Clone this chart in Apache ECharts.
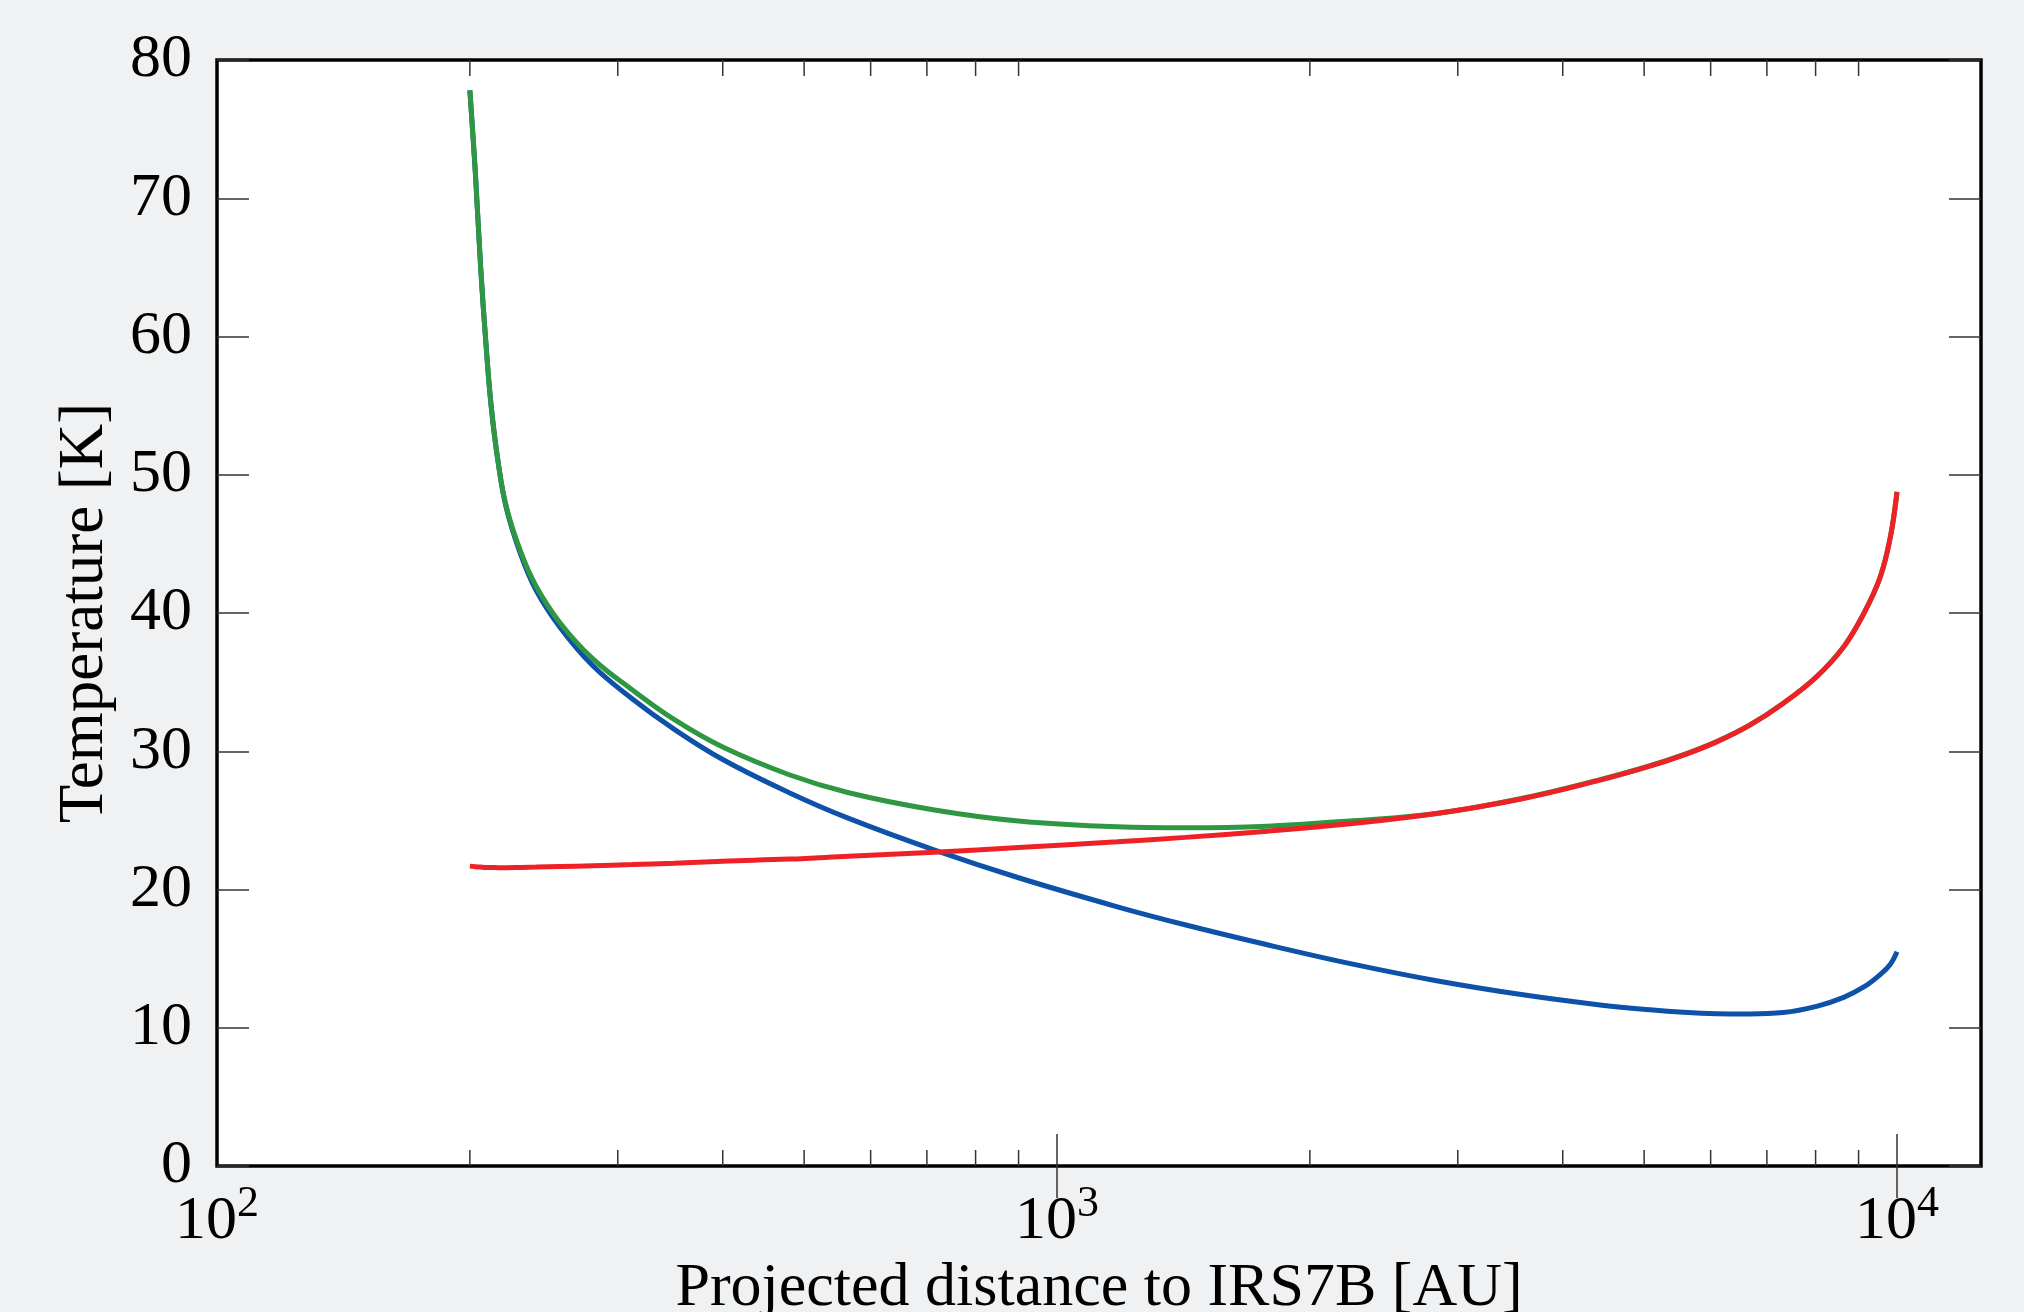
<!DOCTYPE html>
<html>
<head>
<meta charset="utf-8">
<title>Temperature vs projected distance</title>
<script src="https://cdn.jsdelivr.net/npm/echarts@6/dist/echarts.min.js"></script>
<style>
  html, body { margin: 0; padding: 0; background: #f0f1f3; }
  #chart { width: 2024px; height: 1312px; }
</style>
</head>
<body>
<div id="chart"></div>
<script>
// projected distance [AU]
const distance = [200, 203, 206, 209, 212, 216, 221, 230, 240, 256, 280, 312, 350, 400, 480, 565, 715, 900,
  1180, 1420, 1780, 2250, 2830, 3570, 4430, 5080, 5570, 6100, 6680, 7320, 8020, 8640, 9130, 9550, 9820, 10000];

// temperature [K]
const tempBlue = [77.8, 71.9, 65.0, 59.5, 55.0, 51.0, 47.6, 44.2, 41.6, 38.97, 36.2, 33.8, 31.6, 29.4, 27.0, 25.14, 22.85, 20.85,
  18.75, 17.45, 16.0, 14.6, 13.4, 12.4, 11.65, 11.3, 11.12, 11.02, 11.0, 11.1, 11.55, 12.2, 12.95, 13.85, 14.6, 15.5];
const tempGreen = [77.8, 71.9, 65.0, 59.5, 55.0, 51.0, 47.7, 44.4, 41.9, 39.3, 36.7, 34.45, 32.3, 30.3, 28.3, 27.0, 25.75, 24.95,
  24.53, 24.46, 24.58, 24.97, 25.5, 26.58, 27.94, 28.95, 29.75, 30.7, 31.9, 33.47, 35.39, 37.56, 39.97, 42.6, 45.5, 48.76];
const tempRed = [21.69, 21.65, 21.62, 21.6, 21.6, 21.58, 21.58, 21.6, 21.62, 21.66, 21.72, 21.8, 21.9, 22.05, 22.2, 22.41, 22.7, 23.04,
  23.45, 23.77, 24.22, 24.78, 25.5, 26.55, 27.91, 28.92, 29.72, 30.68, 31.89, 33.46, 35.38, 37.55, 39.96, 42.6, 45.5, 48.76];

// log-axis decades and minor ticks
const decades = [100, 1000, 10000];
const majorTicks = [1000, 10000];
const minorTicks = [200, 300, 400, 500, 600, 700, 800, 900, 2000, 3000, 4000, 5000, 6000, 7000, 8000, 9000];

const FONT = 'Liberation Serif';
const X_MIN = 100;
const X_MAX = 12589;

function pairs(ys) {
  return distance.map((x, i) => [x, ys[i]]);
}

function powLabel(v) {
  const e = Math.log10(v);
  if (Math.abs(e - Math.round(e)) > 1e-6) {
    return '';
  }
  return `{b|10}{s|${Math.round(e)}}`;
}

const tickStyle = { color: '#333', width: 1.5 };

const chart = echarts.init(document.getElementById('chart'));

function lineSeries(name, ys, color) {
  return {
    name,
    type: 'line',
    data: pairs(ys),
    showSymbol: false,
    smooth: 0.4,
    lineStyle: { color, width: 5 },
  };
}

const option = {
  animation: false,
  backgroundColor: '#f0f1f3',
  grid: {
    left: 217,
    right: 43,
    top: 60,
    bottom: 146,
    outerBoundsMode: 'none',
    containLabel: false,
    show: true,
    backgroundColor: '#fff',
    borderColor: '#000',
    borderWidth: 3.5,
  },
  xAxis: [
    {
      type: 'log',
      logBase: 10,
      min: X_MIN,
      max: X_MAX,
      position: 'bottom',
      axisLine: { show: false },
      splitLine: { show: false },
      axisTick: { inside: true, length: 32, lineStyle: tickStyle, customValues: majorTicks },
      axisLabel: {
        margin: 16,
        customValues: decades,
        formatter: powLabel,
        rich: {
          // tall base line box so the exponent sits high
          b: { fontFamily: FONT, fontSize: 62, lineHeight: 80, color: '#000' },
          s: { fontFamily: FONT, fontSize: 44, lineHeight: 44, verticalAlign: 'top', color: '#000' },
        },
      },
      name: 'Projected distance to IRS7B [AU]',
      nameLocation: 'middle',
      nameGap: 88,
      nameTextStyle: { fontFamily: FONT, fontSize: 62, color: '#000' },
    },
    {
      type: 'log',
      logBase: 10,
      min: X_MIN,
      max: X_MAX,
      position: 'top',
      axisLine: { show: false },
      splitLine: { show: false },
      axisTick: { inside: true, length: 32, lineStyle: tickStyle, customValues: majorTicks },
      axisLabel: { show: false },
    },
  ],
  yAxis: [
    {
      type: 'value',
      min: 0,
      max: 80,
      interval: 10,
      position: 'left',
      axisLine: { show: false },
      splitLine: { show: false },
      axisTick: { inside: true, length: 32, lineStyle: tickStyle },
      axisLabel: { margin: 25, fontFamily: FONT, fontSize: 62, color: '#000' },
      name: 'Temperature [K]',
      nameLocation: 'middle',
      nameGap: 100,
      nameTextStyle: { fontFamily: FONT, fontSize: 63, color: '#000' },
    },
    {
      type: 'value',
      min: 0,
      max: 80,
      interval: 10,
      position: 'right',
      axisLine: { show: false },
      splitLine: { show: false },
      axisTick: { inside: true, length: 32, lineStyle: tickStyle },
      axisLabel: { show: false },
    },
  ],
  series: [
    lineSeries('blue', tempBlue, '#0d52a8'),
    lineSeries('green', tempGreen, '#2f9642'),
    lineSeries('red', tempRed, '#ee2226'),
    {
      // minor ticks on the bottom and top edges
      type: 'custom',
      silent: true,
      clip: false,
      data: minorTicks.map((v) => [v, 0]),
      renderItem(params, api) {
        const v = api.value(0);
        const bottom = api.coord([v, 0]);
        const top = api.coord([v, 80]);
        return {
          type: 'group',
          children: [
            {
              type: 'line',
              shape: { x1: bottom[0], y1: bottom[1], x2: bottom[0], y2: bottom[1] - 16 },
              style: { stroke: '#333', lineWidth: 1.5 },
            },
            {
              type: 'line',
              shape: { x1: top[0], y1: top[1], x2: top[0], y2: top[1] + 16 },
              style: { stroke: '#333', lineWidth: 1.5 },
            },
          ],
        };
      },
    },
  ],
};

chart.setOption(option);
</script>
</body>
</html>
